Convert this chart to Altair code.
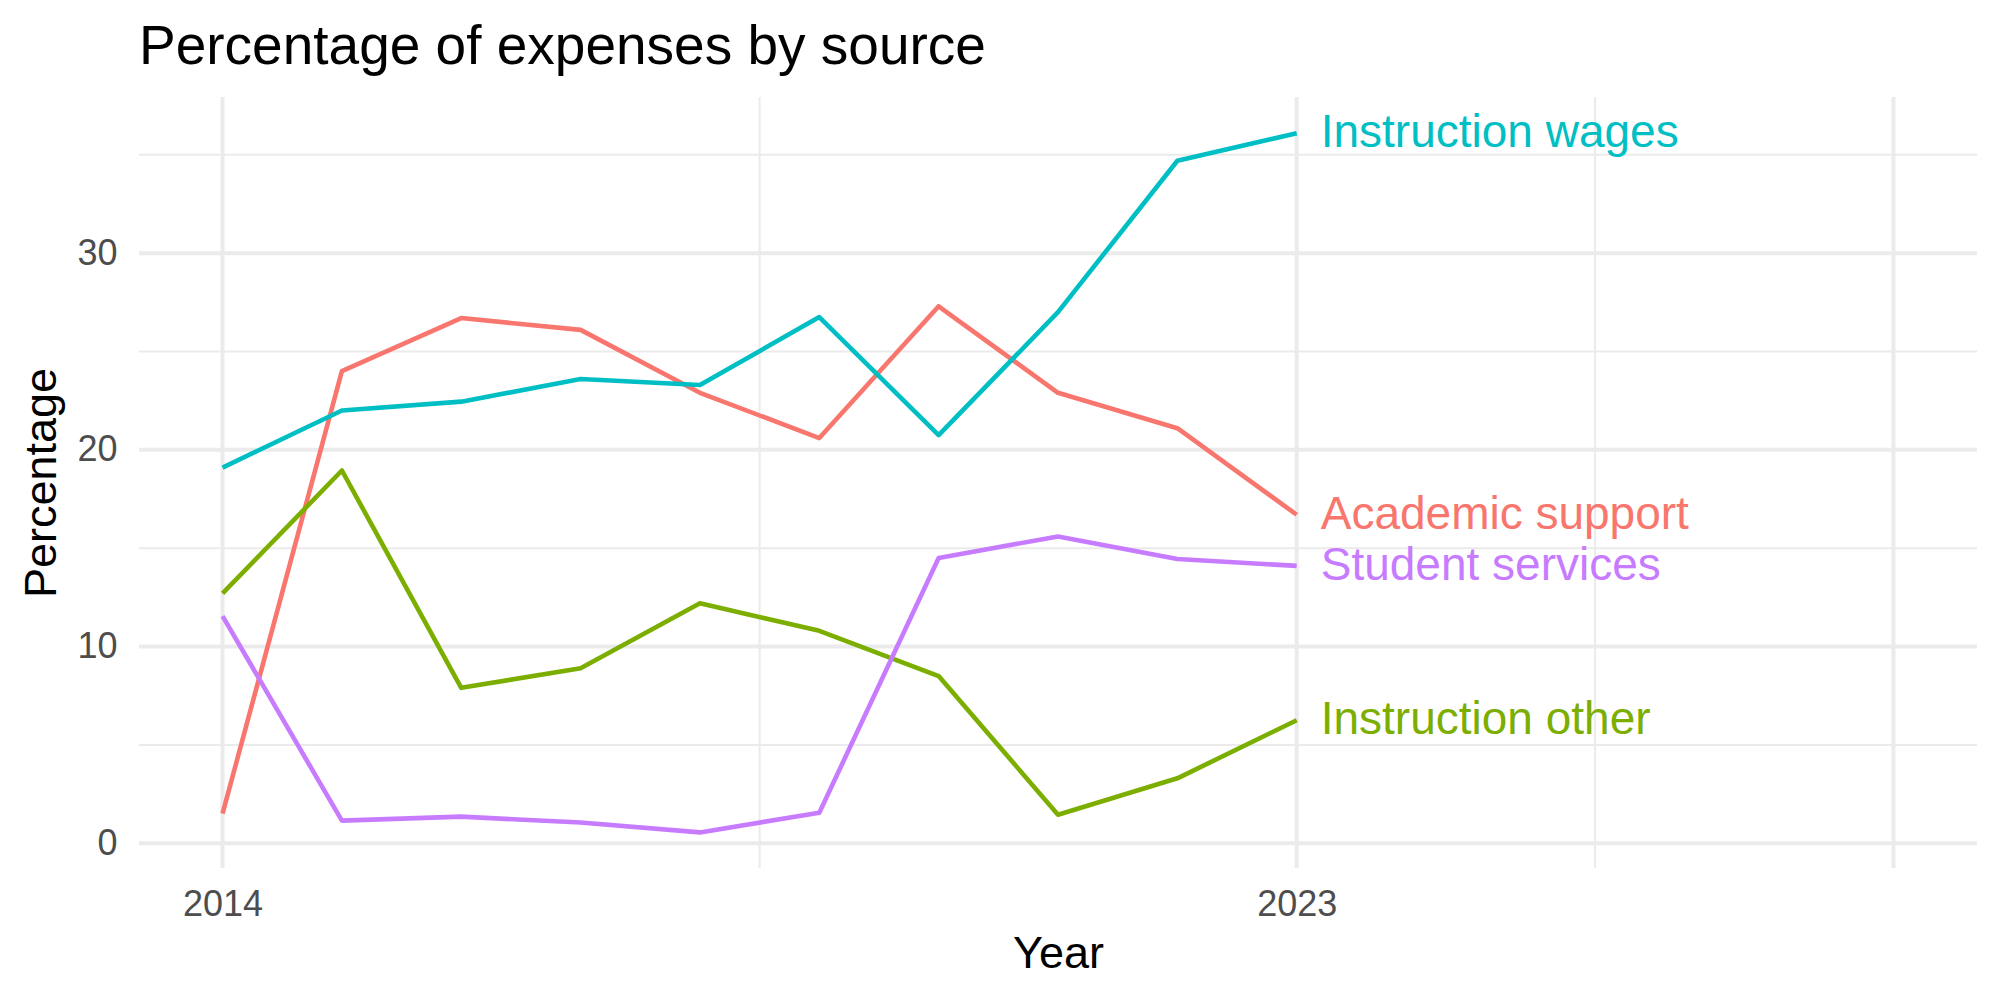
import altair as alt
import pandas as pd

# Share of expenses by source, 2014-2023 (percent)
years = list(range(2014, 2024))
academic_support = [1.5, 24.0, 26.7, 26.1, 22.9, 20.6, 27.3, 22.9, 21.1, 16.7]
instruction_other = [12.7, 18.95, 7.9, 8.9, 12.2, 10.8, 8.5, 1.45, 3.3, 6.25]
instruction_wages = [19.1, 22.0, 22.45, 23.6, 23.3, 26.75, 20.75, 27.0, 34.7, 36.1]
student_services = [11.55, 1.15, 1.35, 1.05, 0.55, 1.55, 14.5, 15.6, 14.45, 14.1]

sources = ["Academic support", "Instruction other", "Instruction wages", "Student services"]
colors = ["#F8766D", "#7CAE00", "#00BFC4", "#C77CFF"]
series = [academic_support, instruction_other, instruction_wages, student_services]

# Axis breaks and grid positions
x_major = [2014, 2023, 2028]
x_minor = [2018.5, 2025.5]
x_labels = [2014, 2023]
y_major = [0, 10, 20, 30]
y_minor = [5, 15, 25, 35]

FONT = "Liberation Sans"
GRID = "#EBEBEB"

rows = []
for name, vals in zip(sources, series):
    for yr, v in zip(years, vals):
        rows.append({"Year": yr, "Percentage": v, "Source": name})
df = pd.DataFrame(rows)
ends = df[df["Year"] == years[-1]]

x_scale = alt.Scale(domain=[2013.3, 2028.7], nice=False, zero=False)
y_scale = alt.Scale(domain=[-1.26, 37.94], nice=False, zero=False)
color_scale = alt.Scale(domain=sources, range=colors)

x_axis = alt.Axis(values=x_labels, format="d", title="Year",
                  grid=False, ticks=False, domain=False,
                  labelFont=FONT, labelFontSize=36, labelColor="#4D4D4D",
                  labelBaseline="alphabetic", labelPadding=47,
                  titleFont=FONT, titleFontSize=45, titleFontWeight="normal",
                  titleColor="black", titleBaseline="alphabetic",
                  titleX=919, titleY=99, titleAlign="center")
y_axis = alt.Axis(values=y_major, format="d", title="Percentage",
                  grid=False, ticks=False, domain=False,
                  labelFont=FONT, labelFontSize=36, labelColor="#4D4D4D",
                  labelBaseline="middle", labelPadding=22,
                  titleFont=FONT, titleFontSize=45, titleFontWeight="normal",
                  titleColor="black", titleBaseline="alphabetic",
                  titleAngle=270, titleX=-84, titleY=385.5, titleAlign="center")


def xq(field):
    return alt.X(field, type="quantitative", scale=x_scale, axis=x_axis, title="Year")


def yq(field):
    return alt.Y(field, type="quantitative", scale=y_scale, axis=y_axis, title="Percentage")


# Background grid: major and minor lines
h_major = alt.Chart(pd.DataFrame({"v": y_major})).mark_rule(color=GRID, strokeWidth=4).encode(y=yq("v"))
h_minor = alt.Chart(pd.DataFrame({"v": y_minor})).mark_rule(color=GRID, strokeWidth=2).encode(y=yq("v"))
v_major = alt.Chart(pd.DataFrame({"v": x_major})).mark_rule(color=GRID, strokeWidth=4).encode(x=xq("v"))
v_minor = alt.Chart(pd.DataFrame({"v": x_minor})).mark_rule(color=GRID, strokeWidth=2).encode(x=xq("v"))

lines = alt.Chart(df).mark_line(strokeWidth=4.6, strokeJoin="round").encode(
    x=xq("Year"),
    y=yq("Percentage"),
    color=alt.Color("Source:N", scale=color_scale, legend=None),
    detail="Source:N",
)

# Direct labels at the end of each series
labels = alt.Chart(ends).mark_text(align="left", baseline="middle", dx=24,
                                   font=FONT, fontSize=46).encode(
    x=xq("Year"),
    y=yq("Percentage"),
    text="Source:N",
    color=alt.Color("Source:N", scale=color_scale, legend=None),
)

chart = alt.layer(h_minor, h_major, v_minor, v_major, lines, labels).properties(
    width=1838,
    height=771,
    title=alt.TitleParams("Percentage of expenses by source", anchor="start",
                          frame="group", font=FONT, fontSize=55,
                          fontWeight="normal", color="black",
                          baseline="alphabetic", offset=-24),
    autosize=alt.AutoSizeParams(type="none"),
    padding={"left": 139, "top": 97, "right": 23, "bottom": 132},
    background="white",
).configure_view(stroke=None)

chart.save("out.html", embed_options={"renderer": "svg", "actions": False})
